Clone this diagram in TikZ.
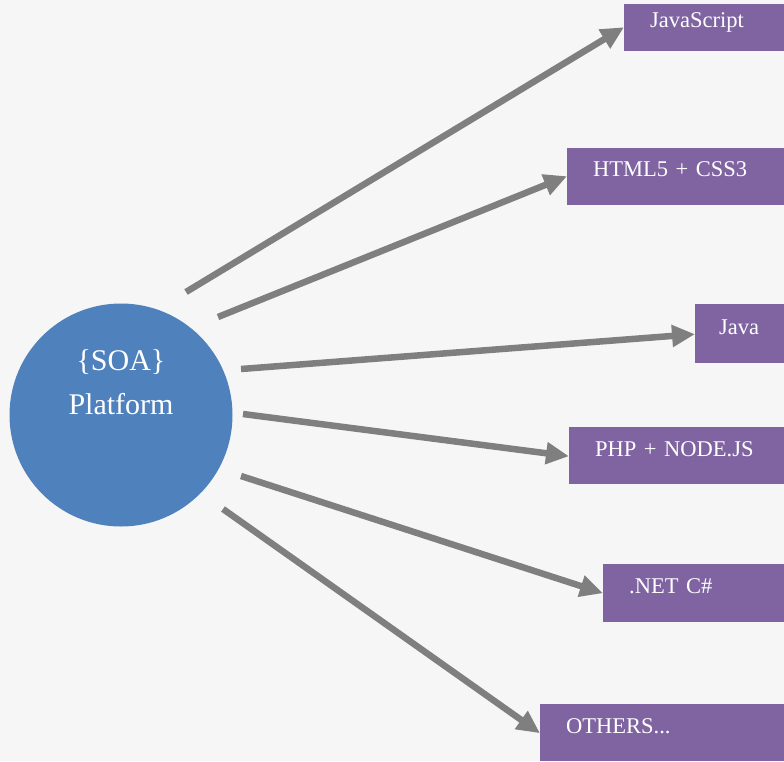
\documentclass[tikz,border=0pt]{standalone}
\usepackage{fontspec}
\setmainfont{Liberation Serif}
\usepackage{tikz}
\usetikzlibrary{arrows.meta,positioning}

\definecolor{soablue}{HTML}{4F81BD}
\definecolor{langpurple}{HTML}{8064A2}
\definecolor{linkgray}{HTML}{7F7F7F}
\definecolor{bggray}{HTML}{F6F6F6}

\begin{document}
\begin{tikzpicture}[x=1pt,y=-1pt,
    lang/.style={fill=langpurple, text=white, anchor=north west, inner ysep=0pt,
        inner xsep=26pt, align=left, font=\fontsize{22.5}{26}\selectfont},
    link/.style={draw=linkgray, line width=6.5pt, -{Triangle[length=23pt,width=21pt]}}]

    \fill[bggray] (0,0) rectangle (784,761);
    \useasboundingbox (0,0) rectangle (784,761);

    \node[circle, fill=soablue, minimum size=223pt, inner sep=0pt] (soa) at (121,415) {};
    \node[text=white, align=center, font=\fontsize{30}{44}\selectfont] (soatext) at (121,382) {\{SOA\}\\Platform};

    \node[lang, text width=108pt, text height=23pt, text depth=24pt] (js) at (624,4) {JavaScript};
    \node[lang, text width=165pt, text height=28pt, text depth=29pt] (html) at (567,148) {HTML5 + CSS3};
    \node[lang, inner xsep=24pt, text width=41pt, text height=30pt, text depth=29pt] (java) at (695,304) {Java};
    \node[lang, text width=163pt, text height=29pt, text depth=28pt] (php) at (569,427) {PHP + NODE.JS};
    \node[lang, text width=129pt, text height=29pt, text depth=29pt] (net) at (603,564) {.NET C\#};
    \node[lang, text width=192pt, text height=29pt, text depth=28pt] (others) at (540,704) {OTHERS...};

    \coordinate (t1) at (186,292);
    \coordinate (t2) at (218,317);
    \coordinate (t3) at (241,369);
    \coordinate (t4) at (243,414);
    \coordinate (t5) at (241,476);
    \coordinate (t6) at (223,509);

    \draw[link] (t1) -- (js.base west);
    \draw[link] (t2) -- (html.base west);
    \draw[link] (t3) -- (java.base west);
    \draw[link] (t4) -- (php.base west);
    \draw[link] (t5) -- (net.base west);
    \draw[link] (t6) -- (others.base west);

\end{tikzpicture}
\end{document}
